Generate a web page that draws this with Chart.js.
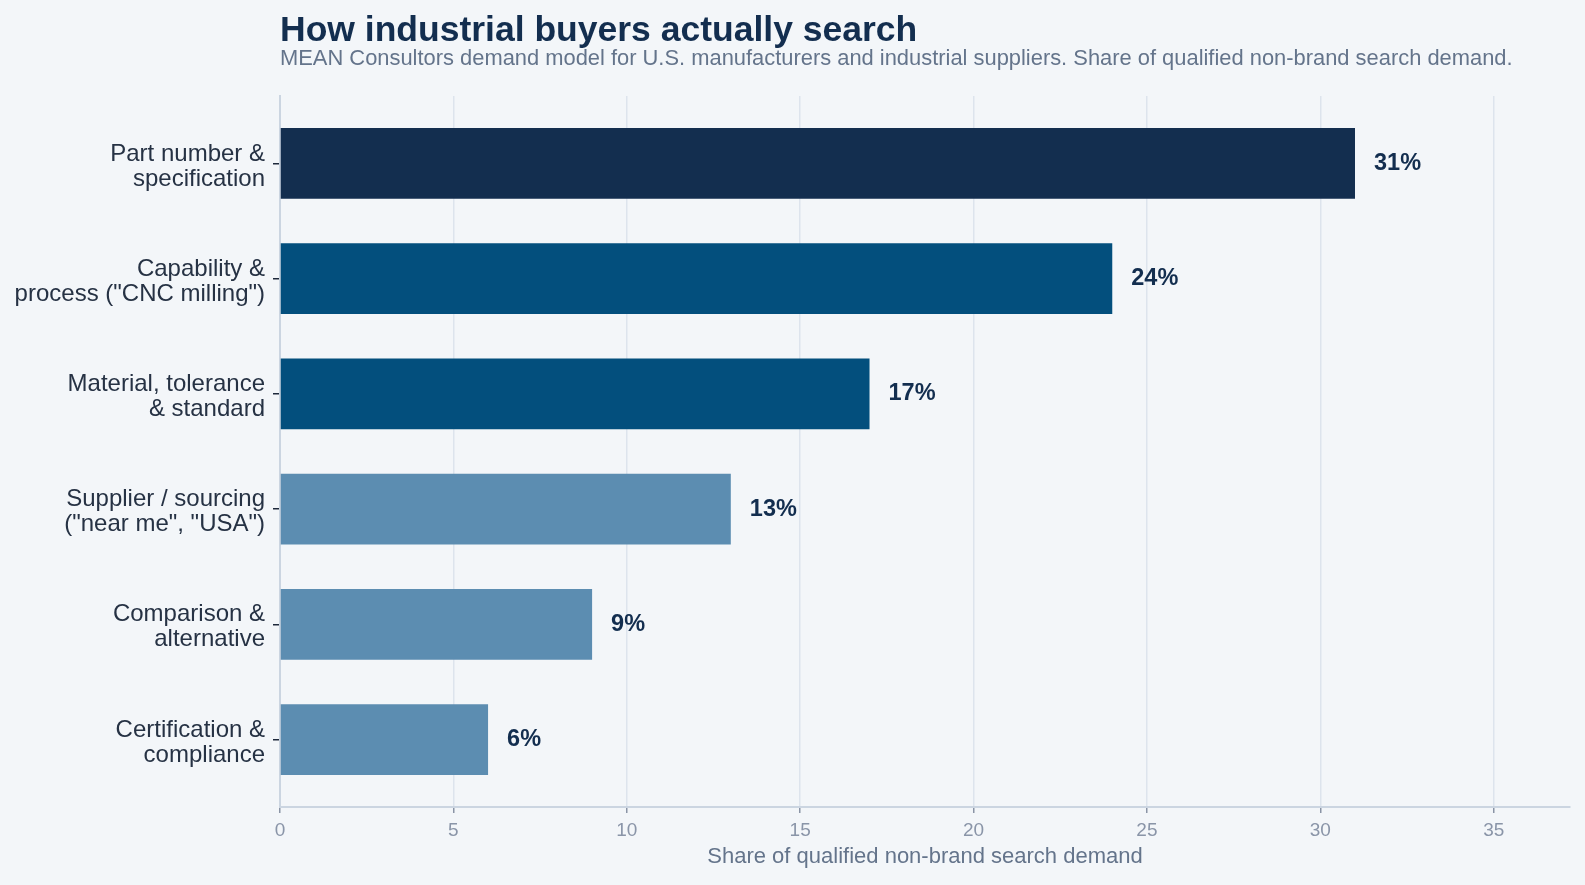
<!DOCTYPE html>
<html>
<head>
<meta charset="utf-8">
<script src="https://cdn.jsdelivr.net/npm/chart.js@4.4.1/dist/chart.umd.min.js"></script>
<style>
  html, body { margin: 0; padding: 0; background: #f3f6f9; }
  #wrap { width: 1585px; height: 885px; position: relative; }
</style>
</head>
<body>
<div id="wrap"><canvas id="c" width="1585" height="885"></canvas></div>
<script>
// ---- data ----
const categories = [
  ["Part number &", "specification"],
  ["Capability &", "process (\"CNC milling\")"],
  ["Material, tolerance", "& standard"],
  ["Supplier / sourcing", "(\"near me\", \"USA\")"],
  ["Comparison &", "alternative"],
  ["Certification &", "compliance"]
];
const shares = [31, 24, 17, 13, 9, 6];
const xTickValues = [0, 5, 10, 15, 20, 25, 30, 35];
const titleText = "How industrial buyers actually search";
const subtitleText = "MEAN Consultors demand model for U.S. manufacturers and industrial suppliers. Share of qualified non-brand search demand.";
const xAxisTitle = "Share of qualified non-brand search demand";

// ---- styles ----
const barColors = ["#132e4f", "#034f7d", "#034f7d", "#5c8db1", "#5c8db1", "#5c8db1"];
const FONT = "'Liberation Sans', Arial, Helvetica, sans-serif";
Chart.defaults.font.family = FONT;

const headerPlugin = {
  id: 'header',
  afterDraw(chart) {
    const ctx = chart.ctx;
    const left = chart.chartArea.left;
    ctx.save();
    ctx.textAlign = 'left';
    ctx.textBaseline = 'alphabetic';
    ctx.fillStyle = '#132e4f';
    ctx.font = "bold 35.5px " + FONT;
    ctx.fillText(titleText, left, 41);
    ctx.fillStyle = '#64748b';
    ctx.font = "21.9px " + FONT;
    ctx.fillText(subtitleText, left, 65);
    ctx.restore();
  }
};

const valueLabelPlugin = {
  id: 'valueLabels',
  afterDatasetsDraw(chart) {
    const ctx = chart.ctx;
    const meta = chart.getDatasetMeta(0);
    ctx.save();
    ctx.fillStyle = '#132e4f';
    ctx.font = "bold 23.5px " + FONT;
    ctx.textAlign = 'left';
    ctx.textBaseline = 'middle';
    meta.data.forEach((bar, i) => {
      ctx.fillText(shares[i] + '%', bar.x + 19, bar.y);
    });
    ctx.restore();
  }
};

new Chart(document.getElementById('c'), {
  type: 'bar',
  data: {
    datasets: [{
      data: shares.map((v, i) => ({ x: v, y: i })),
      backgroundColor: barColors,
      borderWidth: 0,
      barPercentage: 0.614,
      categoryPercentage: 1
    }]
  },
  options: {
    indexAxis: 'y',
    responsive: false,
    animation: false,
    devicePixelRatio: 1,
    layout: { padding: { top: 96, right: 15, bottom: 0, left: 0 } },
    plugins: {
      legend: { display: false },
      tooltip: { enabled: false },
      title: { display: false }
    },
    scales: {
      x: {
        type: 'linear',
        position: 'bottom',
        min: 0,
        max: 37.2,
        afterBuildTicks(scale) { scale.ticks = xTickValues.map(v => ({ value: v })); },
        afterFit(scale) { scale.height = 78; },
        ticks: {
          includeBounds: false,
          color: '#8a95a8',
          font: { size: 19 },
          padding: 6
        },
        grid: {
          color: '#dde4ed',
          lineWidth: 1.5,
          drawTicks: true,
          tickLength: 6,
          tickColor: '#8a94a6'
        },
        border: { color: '#cbd5e1', width: 2 },
        title: {
          display: true,
          text: xAxisTitle,
          color: '#64748b',
          font: { size: 22 },
          padding: { top: 4, bottom: 15 }
        }
      },
      y: {
        type: 'linear',
        reverse: true,
        offset: false,
        min: -0.585,
        max: 5.585,
        afterBuildTicks(scale) { scale.ticks = categories.map((c, i) => ({ value: i })); },
        afterFit(scale) { scale.width = 280; },
        ticks: {
          autoSkip: false,
          color: '#263244',
          font: { size: 24, lineHeight: 1.04 },
          padding: 8,
          labelOffset: 3,
          callback: (v) => categories[v]
        },
        grid: {
          offset: false,
          drawOnChartArea: false,
          drawTicks: true,
          tickLength: 7,
          tickColor: '#1e293b',
          lineWidth: 1.5
        },
        border: { color: '#cbd5e1', width: 2 }
      }
    }
  },
  plugins: [headerPlugin, valueLabelPlugin]
});
</script>
</body>
</html>
